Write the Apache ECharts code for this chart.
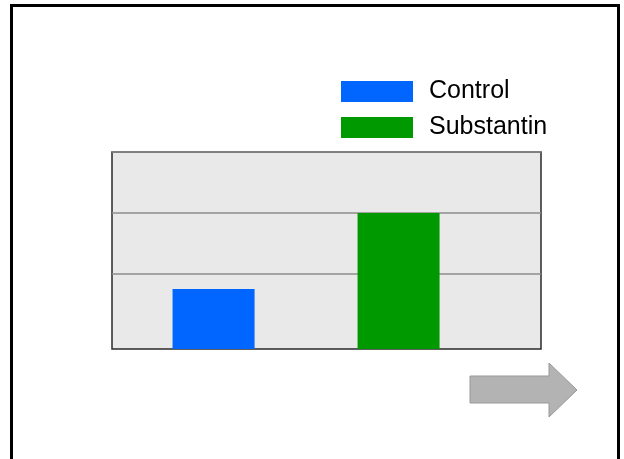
<!DOCTYPE html>
<html>
<head>
<meta charset="UTF-8">
<title>Control vs Substantin</title>
<script src="https://cdn.jsdelivr.net/npm/echarts@6/dist/echarts.min.js"></script>
<style>
  html, body { margin: 0; padding: 0; background: #fff; }
  #main { width: 624px; height: 459px; }
</style>
</head>
<body>
<div id="main"></div>
<script>
// data
var seriesNames = ['Control', 'Substantin'];
var barSlots = [0, 1];            // position index of each bar
var barValues = [30.5, 69];       // bar heights (0..100 scale)
var gridValues = [38, 69];        // horizontal reference lines
var yMax = 100;
var barColors = ['#0066ff', '#009900'];

var chart = echarts.init(document.getElementById('main'));

var series = seriesNames.map(function (name, i) {
    return {
        name: name,
        type: 'bar',
        barWidth: 82,
        barGap: '-100%',
        itemStyle: { color: barColors[i] },
        data: [[barSlots[i], barValues[i]]],
        z: 3
    };
});

// reference lines behind the bars
series.unshift({
    name: 'lines',
    type: 'line',
    data: [],
    z: 1,
    markLine: {
        silent: true,
        symbol: 'none',
        z: 1,
        label: { show: false },
        lineStyle: { color: '#8c8c8c', type: 'solid', width: 1.5 },
        data: gridValues.concat([yMax]).map(function (v) { return { yAxis: v }; })
    }
});

chart.setOption({
    animation: false,
    backgroundColor: '#fff',
    legend: {
        orient: 'vertical',
        left: 341,
        top: 79,
        padding: 0,
        itemWidth: 72,
        itemHeight: 21,
        itemGap: 11,
        icon: 'rect',
        data: seriesNames,
        textStyle: {
            fontFamily: 'Liberation Sans, Arial, sans-serif',
            fontSize: 25,
            color: '#000',
            padding: [2, 0, 0, 11]
        }
    },
    grid: {
        left: 112,
        top: 152,
        width: 429,
        height: 197,
        show: true,
        backgroundColor: '#e9e9e9',
        borderColor: '#2a2a2a',
        borderWidth: 1.5
    },
    xAxis: {
        type: 'value',
        min: -0.549,
        max: 1.77,
        axisLine: { show: false },
        axisTick: { show: false },
        axisLabel: { show: false },
        splitLine: { show: false }
    },
    yAxis: {
        type: 'value',
        min: 0,
        max: yMax,
        axisLine: { show: false },
        axisTick: { show: false },
        axisLabel: { show: false },
        splitLine: { show: false }
    },
    series: series,
    graphic: [
        {
            type: 'rect',
            shape: { x: 11.5, y: 5.5, width: 607, height: 520 },
            style: { fill: 'none', stroke: '#000', lineWidth: 3 },
            silent: true
        },
        {
            type: 'polygon',
            shape: {
                points: [[470, 376], [549, 376], [549, 363], [577, 390],
                         [549, 417], [549, 403], [470, 403]]
            },
            style: { fill: '#b3b3b3', stroke: '#999', lineWidth: 1 },
            silent: true
        }
    ]
});
</script>
</body>
</html>
